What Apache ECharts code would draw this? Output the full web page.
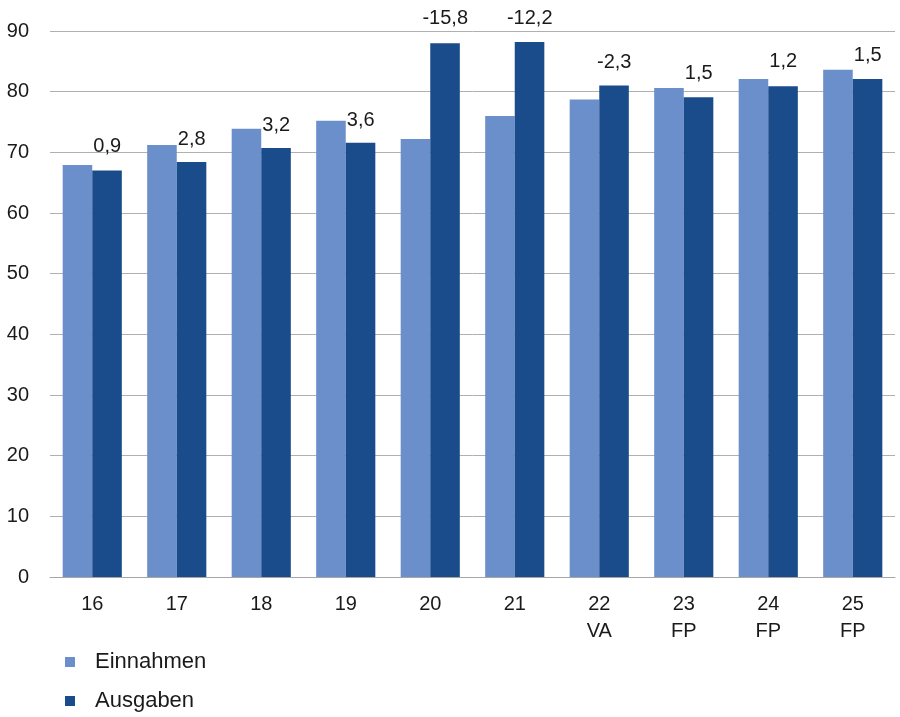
<!DOCTYPE html>
<html>
<head>
<meta charset="utf-8">
<script src="https://cdn.jsdelivr.net/npm/echarts@6/dist/echarts.min.js"></script>
<style>
html,body{margin:0;padding:0;background:#fff;}
#chart{width:900px;height:717px;}
</style>
</head>
<body>
<div id="chart"></div>
<script>
var categories = ['16', '17', '18', '19', '20', '21', '22\nVA', '23\nFP', '24\nFP', '25\nFP'];
var einnahmen = [67.9, 71.2, 73.9, 75.2, 72.2, 76.0, 78.7, 80.6, 82.1, 83.6];
var ausgaben = [67.0, 68.4, 70.7, 71.6, 88.0, 88.2, 81.0, 79.1, 80.9, 82.1];
var saldoLabels = ['0,9', '2,8', '3,2', '3,6', '-15,8', '-12,2', '-2,3', '1,5', '1,2', '1,5'];
var saldoLabelLevel = [70.9, 72.2, 74.5, 75.2, 92.0, 92.1, 84.8, 83.0, 84.9, 85.9];
var yTicks = [0, 10, 20, 30, 40, 50, 60, 70, 80, 90];

var FONT = '"Liberation Sans", Arial, sans-serif';
var TEXT = '#1a1a1a';
var chart = echarts.init(document.getElementById('chart'), null, {renderer: 'canvas'});
chart.setOption({
  animation: false,
  backgroundColor: '#ffffff',
  textStyle: {fontFamily: FONT},
  grid: {left: 50, right: 5, top: 31, bottom: 140, containLabel: false},
  legend: {
    orient: 'vertical', left: 65, top: 651, height: 66, padding: 0,
    itemWidth: 10, itemHeight: 10, itemGap: 17,
    icon: 'rect',
    data: ['Einnahmen', 'Ausgaben'],
    textStyle: {fontFamily: FONT, fontSize: 22, color: TEXT, padding: [0, 0, 0, 15]}
  },
  xAxis: {
    type: 'category', data: categories,
    axisTick: {show: false},
    axisLine: {lineStyle: {color: '#a6a6a6', width: 1}},
    axisLabel: {fontFamily: FONT, fontSize: 20, color: TEXT, margin: 14, lineHeight: 27}
  },
  yAxis: {
    type: 'value', min: yTicks[0], max: yTicks[yTicks.length - 1], interval: 10,
    axisLine: {show: false}, axisTick: {show: false},
    axisLabel: {fontFamily: FONT, fontSize: 20, color: TEXT, margin: 21},
    splitLine: {lineStyle: {color: '#b0b0b0', width: 1}}
  },
  series: [
    {name: 'Einnahmen', type: 'bar', data: einnahmen, barGap: '0%', barCategoryGap: '30%',
     itemStyle: {color: '#6b8fcb'}},
    {name: 'Ausgaben', type: 'bar', data: ausgaben,
     itemStyle: {color: '#1a4c8b'}},
    {name: 'Saldo', type: 'scatter', data: saldoLabelLevel, symbolSize: 0, clip: false,
     silent: true, itemStyle: {color: '#000', opacity: 1},
     label: {show: true, position: 'inside', offset: [15, 0],
       fontFamily: FONT, fontSize: 20, color: TEXT, textBorderWidth: 0, opacity: 1,
       formatter: function (p) { return saldoLabels[p.dataIndex]; }}}
  ]
});
</script>
</body>
</html>
